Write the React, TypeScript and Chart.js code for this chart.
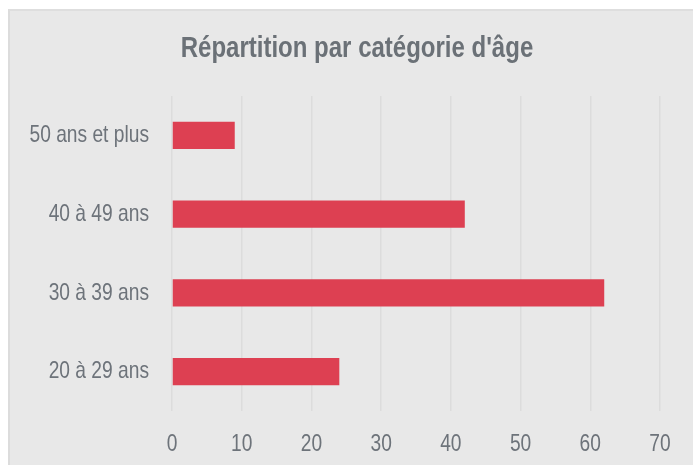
import React, { useEffect, useRef } from "react";
import { Chart, registerables } from "chart.js";

Chart.register(...registerables);

const categories = ["50 ans et plus", "40 à 49 ans", "30 à 39 ans", "20 à 29 ans"];
const values = [9, 42, 62, 24];
const xTicks = [0, 10, 20, 30, 40, 50, 60, 70];
const title = "Répartition par catégorie d'âge";

const FONT = "'Liberation Sans', Arial, sans-serif";
const TEXT = "#6d737a";
const NARROW = 0.8; // horizontal condensing to mimic a narrow typeface

export default function App() {
  const ref = useRef<HTMLCanvasElement | null>(null);
  useEffect(() => {
    if (!ref.current) return;
    const ctx = ref.current.getContext("2d") as CanvasRenderingContext2D;
    const orig = ctx.fillText.bind(ctx);
    (ctx as any).fillText = (text: string, x: number, y: number, maxWidth?: number) => {
      ctx.save();
      ctx.translate(x, y);
      ctx.scale(NARROW, 1);
      if (maxWidth !== undefined) orig(text, 0, 0, maxWidth / NARROW);
      else orig(text, 0, 0);
      ctx.restore();
    };
    const chart = new Chart(ctx, {
      type: "bar",
      data: {
        labels: categories,
        datasets: [
          {
            data: values,
            backgroundColor: "#dd4052",
            borderWidth: 0,
            categoryPercentage: 0.345,
            barPercentage: 1,
          },
        ],
      },
      options: {
        indexAxis: "y",
        animation: false,
        responsive: true,
        maintainAspectRatio: false,
        layout: { padding: { left: 11, right: 0, top: 0, bottom: 0 } },
        plugins: {
          legend: { display: false },
          tooltip: { enabled: false },
          title: {
            display: true,
            text: title,
            color: "#6b7177",
            font: { family: FONT, size: 30, weight: "bold", lineHeight: 1.2 },
            padding: { top: 20, bottom: 29 },
          },
        },
        scales: {
          x: {
            min: xTicks[0],
            max: xTicks[xTicks.length - 1],
            afterBuildTicks: (scale: any) => {
              scale.ticks = xTicks.map((v) => ({ value: v }));
            },
            afterFit: (scale: any) => {
              scale.height = 54;
            },
            grid: { color: "#dcdcdc", lineWidth: 1.5, drawTicks: false },
            border: { display: false },
            ticks: {
              color: TEXT,
              padding: 19,
              font: { family: FONT, size: 24, lineHeight: 1.2 },
            },
          },
          y: {
            grid: { display: false, drawTicks: false },
            border: { display: false },
            afterFit: (scale: any) => {
              scale.width = 151;
            },
            ticks: {
              color: TEXT,
              padding: 23,
              font: { family: FONT, size: 24, lineHeight: 1.2 },
            },
          },
          yRight: {
            type: "linear",
            position: "right",
            display: true,
            grid: { display: false, drawTicks: false },
            border: { display: false },
            ticks: { display: false },
            afterFit: (scale: any) => {
              scale.width = 33;
            },
          },
        },
      },
    });
    return () => chart.destroy();
  }, []);

  return (
    <div
      style={{
        position: "fixed",
        left: 8,
        top: 9,
        right: 0,
        bottom: 0,
        background: "#e8e8e8",
        borderTop: "2px solid #dedede",
        borderLeft: "2px solid #dcdcdc",
        boxSizing: "border-box",
      }}
    >
      <canvas ref={ref} />
    </div>
  );
}
